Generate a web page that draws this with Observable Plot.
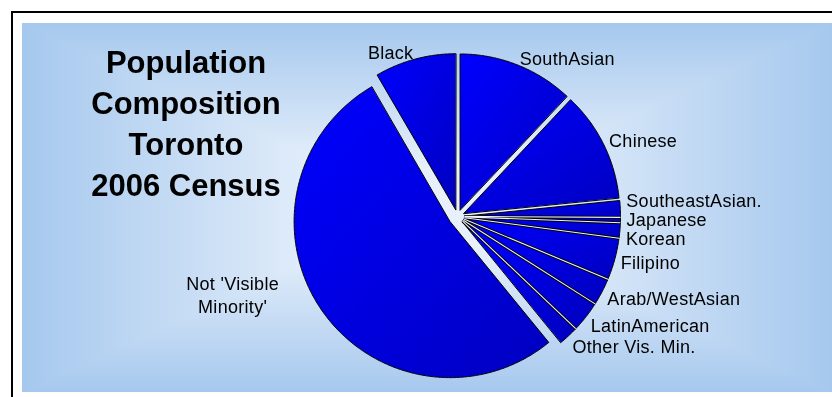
<!DOCTYPE html>
<html><head><meta charset="utf-8">
<script src="https://cdn.jsdelivr.net/npm/d3@7"></script>
<script src="https://cdn.jsdelivr.net/npm/@observablehq/plot@0.6"></script>
<style>
html,body{margin:0;padding:0;background:#fff;overflow:hidden;}
#wrap{position:relative;width:832px;height:397px;overflow:hidden;}
#frame{position:absolute;left:11px;top:11px;width:900px;height:500px;border-left:2px solid #000;border-top:2px solid #000;}
#bg{position:absolute;left:22px;top:23px;}
#chart{position:absolute;left:0;top:0;}
#title{position:absolute;left:36px;top:41.6px;width:300px;text-align:center;font:bold 31px "Liberation Sans",Arial,sans-serif;line-height:41.3px;color:#000;}
</style></head>
<body><div id="wrap"><div id="frame"></div><canvas id="bg" width="810" height="369"></canvas><div id="chart"></div><div id="title"></div></div>
<script>
// ---- data (percent of population, clockwise from 12 o'clock) ----
const categories = ["SouthAsian","Chinese","SoutheastAsian.","Japanese","Korean","Filipino","Arab/WestAsian","LatinAmerican","Other Vis. Min.","Not 'Visible\nMinority'","Black"];
const shares = [12.0, 11.4, 1.7, 0.5, 1.5, 4.2, 2.7, 3.1, 2.0, 52.5, 8.4];
const titleLines = ["Population","Composition","Toronto","2006 Census"];

// ---- background (rectangular "from centre" gradient) ----
(function(){
  const cv = document.getElementById("bg"), ctx = cv.getContext("2d");
  const w = cv.width, h = cv.height, img = ctx.createImageData(w, h);
  const light = [232,241,251], edge = [166,200,238];
  for (let j=0;j<h;j++) for (let i=0;i<w;i++){
    const t = Math.max(Math.abs(i - w/2)/(w/2), Math.abs(j - h/2)/(h/2));
    const s = Math.min(1, Math.max(0, (t - 0.2)/0.8));
    const k = (j*w+i)*4;
    for (let c=0;c<3;c++) img.data[k+c] = Math.round(light[c] + (edge[c]-light[c])*s);
    img.data[k+3] = 255;
  }
  ctx.putImageData(img,0,0);
})();
document.getElementById("title").innerHTML = titleLines.join("<br>");

// ---- layout ----
const W = 832, H = 397, cx = 457, cy = 216, Rpx = 156, labelPx = 169;
const explodeBase = 7, explodeBig = 9;
const font = "Liberation Sans, Arial, sans-serif";

const arcs = d3.pie().sort(null).value(d => d.value)(categories.map((c,i)=>({name:c, value:shares[i]})));
const offs = arcs.map(s => {
  const m = (s.startAngle + s.endAngle)/2;
  const e = (s.data.value > 50 ? explodeBig : explodeBase) / Rpx;
  return {m, e, ox: e*Math.sin(m), oy: e*Math.cos(m)};
});
const pts = [];
arcs.forEach((s, i) => {
  const {ox, oy} = offs[i];
  pts.push({name:s.data.name, x:ox, y:oy});
  const n = Math.max(2, Math.ceil((s.endAngle - s.startAngle)/(Math.PI/360)));
  for (let k=0;k<=n;k++){
    const a = s.startAngle + (s.endAngle - s.startAngle)*k/n;
    pts.push({name:s.data.name, x:ox+Math.sin(a), y:oy+Math.cos(a)});
  }
});

// separator lines where neighbouring slices almost touch
const seps = [];
arcs.forEach((s, i) => {
  const j = (i + 1) % arcs.length, b = s.endAngle;
  const o1 = offs[i], o2 = offs[j];
  const gapPx = (o1.e*Math.sin(b - o1.m) + o2.e*Math.sin(((arcs[j].startAngle + arcs[j].endAngle)/2 + (j===0?2*Math.PI:0)) - b))*Rpx;
  if (gapPx < 2.5) {
    const x0 = (o1.ox + o2.ox)/2, y0 = (o1.oy + o2.oy)/2;
    seps.push({x1:x0, y1:y0, x2:x0+Math.sin(b), y2:y0+Math.cos(b)});
  }
});

// labels: mid-angle, outside the rim; de-overlap on the right side
const labels = arcs.map(s => {
  const m = (s.startAngle + s.endAngle)/2;
  const xpx = cx + labelPx*Math.sin(m);
  const ypx = cy - labelPx*Math.cos(m) + Math.max(0, -Math.cos(m))*9;
  return {name:s.data.name, m, big: s.data.value > 50, xpx, ypx};
});
const right = labels.filter(d => !d.big && Math.sin(d.m) > 0).sort((a,b)=>a.ypx-b.ypx);
const gap = 19;
for (let it=0; it<300; it++) for (let i=0;i<right.length-1;i++){
  const diff = right[i+1].ypx - right[i].ypx;
  if (diff < gap){ const d=(gap-diff)/2; right[i].ypx -= d; right[i+1].ypx += d; }
}
for (const d of labels){ d.x = (d.xpx - cx)/Rpx; d.y = (cy - d.ypx)/Rpx; }
const left = labels.filter(d => !d.big && Math.sin(d.m) <= 0);
const big = labels.filter(d => d.big);

const chart = Plot.plot({
  width: W, height: H,
  marginLeft: cx - Rpx, marginRight: W - cx - Rpx, marginTop: cy - Rpx, marginBottom: H - cy - Rpx,
  x: {domain: [-1, 1], axis: null},
  y: {domain: [-1, 1], axis: null},
  style: {background: "transparent", overflow: "visible", fontFamily: font, letterSpacing: "0.3px"},
  marks: [
    Plot.line(pts, {x:"x", y:"y", z:"name", curve:"linear-closed", fill:"url(#sliceGrad)", stroke:"#000", strokeWidth:1, strokeLinejoin:"round"}),
    Plot.link(seps, {x1:"x1", y1:"y1", x2:"x2", y2:"y2", stroke:"#000", strokeWidth:2.8}),
    Plot.link(seps, {x1:"x1", y1:"y1", x2:"x2", y2:"y2", stroke:"#eef4fc", strokeWidth:1.1}),
    Plot.text(right, {x:"x", y:"y", text:"name", textAnchor:"start", lineAnchor:"middle", fontSize:18, fill:"#000", fontFamily:font}),
    Plot.text(left, {x:"x", y:"y", text:"name", textAnchor:"end", lineAnchor:"middle", fontSize:18, fill:"#000", fontFamily:font}),
    Plot.text(big, {x:"x", y:"y", text:"name", textAnchor:"middle", lineAnchor:"middle", lineHeight:1.28, dx:-86, dy:-24, fontSize:18, fill:"#000", fontFamily:font})
  ]
});
const sv = d3.select(chart);
const g = sv.insert("defs", ":first-child").append("linearGradient").attr("id","sliceGrad")
  .attr("x1",0).attr("y1",0).attr("x2",1).attr("y2",1);
g.append("stop").attr("offset","0%").attr("stop-color","#0000ff");
g.append("stop").attr("offset","100%").attr("stop-color","#0000c0");
document.getElementById("chart").appendChild(chart);
</script>
</body></html>
